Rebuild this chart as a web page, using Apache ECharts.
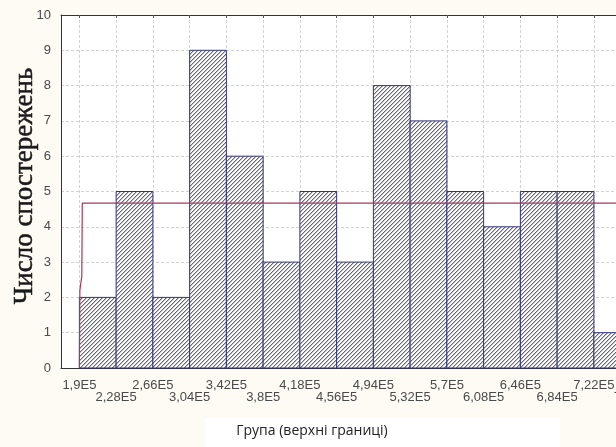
<!DOCTYPE html>
<html>
<head>
<meta charset="utf-8">
<script src="https://cdn.jsdelivr.net/npm/echarts@6/dist/echarts.min.js"></script>
<style>
  html, body { margin: 0; padding: 0; background: #fefbf4; }
  #chart { width: 616px; height: 447px; }
</style>
</head>
<body>
<div id="chart"></div>
<script>
// Histogram bin boundaries (upper limits) and observed counts per bin
const binEdges = [190000, 228000, 266000, 304000, 342000, 380000, 418000, 456000,
                  494000, 532000, 570000, 608000, 646000, 684000, 722000, 760000];
const xTickLabels = ['1,9E5', '2,28E5', '2,66E5', '3,04E5', '3,42E5', '3,8E5', '4,18E5', '4,56E5',
                     '4,94E5', '5,32E5', '5,7E5', '6,08E5', '6,46E5', '6,84E5', '7,22E5', '7,6E5'];
const counts = [2, 5, 2, 9, 6, 3, 5, 3, 8, 7, 5, 4, 5, 5, 1];

// Expected (uniform) frequency curve
const expectedX = [190000, 190500, 192500, 193000, 779000];
const expectedY = [0, 2.2, 2.6, 4.67, 4.67];

const yTicks = [0, 1, 2, 3, 4, 5, 6, 7, 8, 9, 10];

// Pixel-aligned 45° hatch tile for the bars
function hatchPattern() {
  const n = 4;
  const c = document.createElement('canvas');
  c.width = n; c.height = n;
  const g = c.getContext('2d');
  g.fillStyle = '#ffffff';
  g.fillRect(0, 0, n, n);
  for (let y = 0; y < n; y++) {
    g.fillStyle = '#686882';
    g.fillRect((n - 1 - y), y, 1, 1);
    g.fillStyle = '#bcbcca';
    g.fillRect((n - y) % n, y, 1, 1);
  }
  return c;
}
const hatch = hatchPattern();

const binData = counts.map((c, i) => [binEdges[i], binEdges[i + 1], c]);
const curveData = expectedX.map((x, i) => [x, expectedY[i]]);

// Boundary labels alternate between two rows
const evenEdges = binEdges.filter((e, i) => i % 2 === 0);
const oddEdges = binEdges.filter((e, i) => i % 2 === 1);
function edgeLabel(v) {
  const i = binEdges.findIndex(e => Math.abs(e - v) < 1);
  return i < 0 ? '' : xTickLabels[i];
}

const xMin = 171000, xMax = 779000;
const labelFont = { fontFamily: 'Liberation Sans, Arial, sans-serif', fontSize: 13, color: '#4a4a4a' };

function bottomAxis(values, offset, withGrid) {
  return {
    type: 'value',
    min: xMin, max: xMax,
    position: 'bottom',
    offset: offset,
    axisLine: { show: !offset, lineStyle: { color: '#333333', width: 1 } },
    axisTick: { show: false, customValues: withGrid ? binEdges : values },
    axisLabel: {
      customValues: values,
      ...labelFont,
      margin: 11,
      showMinLabel: true,
      showMaxLabel: true,
      hideOverlap: false,
      formatter: edgeLabel
    },
    splitLine: { show: withGrid, lineStyle: { color: '#d2d2d2', type: [3, 2], width: 1 } }
  };
}

const chart = echarts.init(document.getElementById('chart'), null, { renderer: 'canvas' });
chart.setOption({
  animation: false,
  backgroundColor: '#fefbf4',
  grid: {
    left: 61, top: 15, width: 588, bottom: 79,
    outerBoundsMode: 'none',
    containLabel: false,
    show: true, backgroundColor: '#ffffff', borderWidth: 0
  },
  xAxis: [
    bottomAxis(evenEdges, 0, true),
    bottomAxis(oddEdges, 12, false),
    {
      type: 'value',
      min: xMin, max: xMax,
      position: 'top',
      axisLine: { show: true, lineStyle: { color: '#333333', width: 1 } },
      axisTick: { show: true, inside: true, length: 3, customValues: binEdges, lineStyle: { color: '#555' } },
      axisLabel: { show: false },
      splitLine: { show: false }
    }
  ],
  yAxis: {
    type: 'value',
    min: 0, max: 10, interval: 1,
    axisLine: { show: true, lineStyle: { color: '#333333', width: 1 } },
    axisTick: { show: false },
    axisLabel: { ...labelFont, margin: 10, formatter: v => yTicks.includes(v) ? String(v) : '' },
    splitLine: { show: true, lineStyle: { color: '#d2d2d2', type: [3, 2], width: 1 } }
  },
  series: [{
    type: 'custom',
    name: 'bins',
    z: 3,
    encode: { x: [0, 1], y: 2 },
    data: binData,
    renderItem: (params, api) => {
      const p0 = api.coord([api.value(0), api.value(2)]);
      const p1 = api.coord([api.value(1), 0]);
      return {
        type: 'rect',
        shape: { x: p0[0], y: p0[1], width: p1[0] - p0[0], height: p1[1] - p0[1] },
        style: {
          fill: { image: hatch, repeat: 'repeat' },
          stroke: '#34347a',
          lineWidth: 1
        }
      };
    }
  }, {
    type: 'line',
    name: 'expected',
    z: 5,
    data: curveData,
    symbol: 'none',
    lineStyle: { color: '#a23a5c', width: 1.2 }
  }],
  graphic: [{
    type: 'text',
    x: 25, y: 186,
    rotation: Math.PI / 2,
    style: {
      text: 'Число спостережень',
      font: '27px "Liberation Serif", "Times New Roman", serif',
      fill: '#1a1a1a',
      stroke: '#1a1a1a',
      lineWidth: 0.5,
      align: 'center',
      verticalAlign: 'middle'
    }
  }, {
    type: 'rect',
    z: -1,
    shape: { x: 205, y: 418, width: 355, height: 29 },
    style: { fill: '#ffffff' }
  }, {
    type: 'text',
    x: 312, y: 431,
    style: {
      text: 'Група (верхні границі)',
      font: '14px "Open Sans", sans-serif',
      fill: '#222222',
      align: 'center',
      verticalAlign: 'middle'
    }
  }]
});
</script>
</body>
</html>
